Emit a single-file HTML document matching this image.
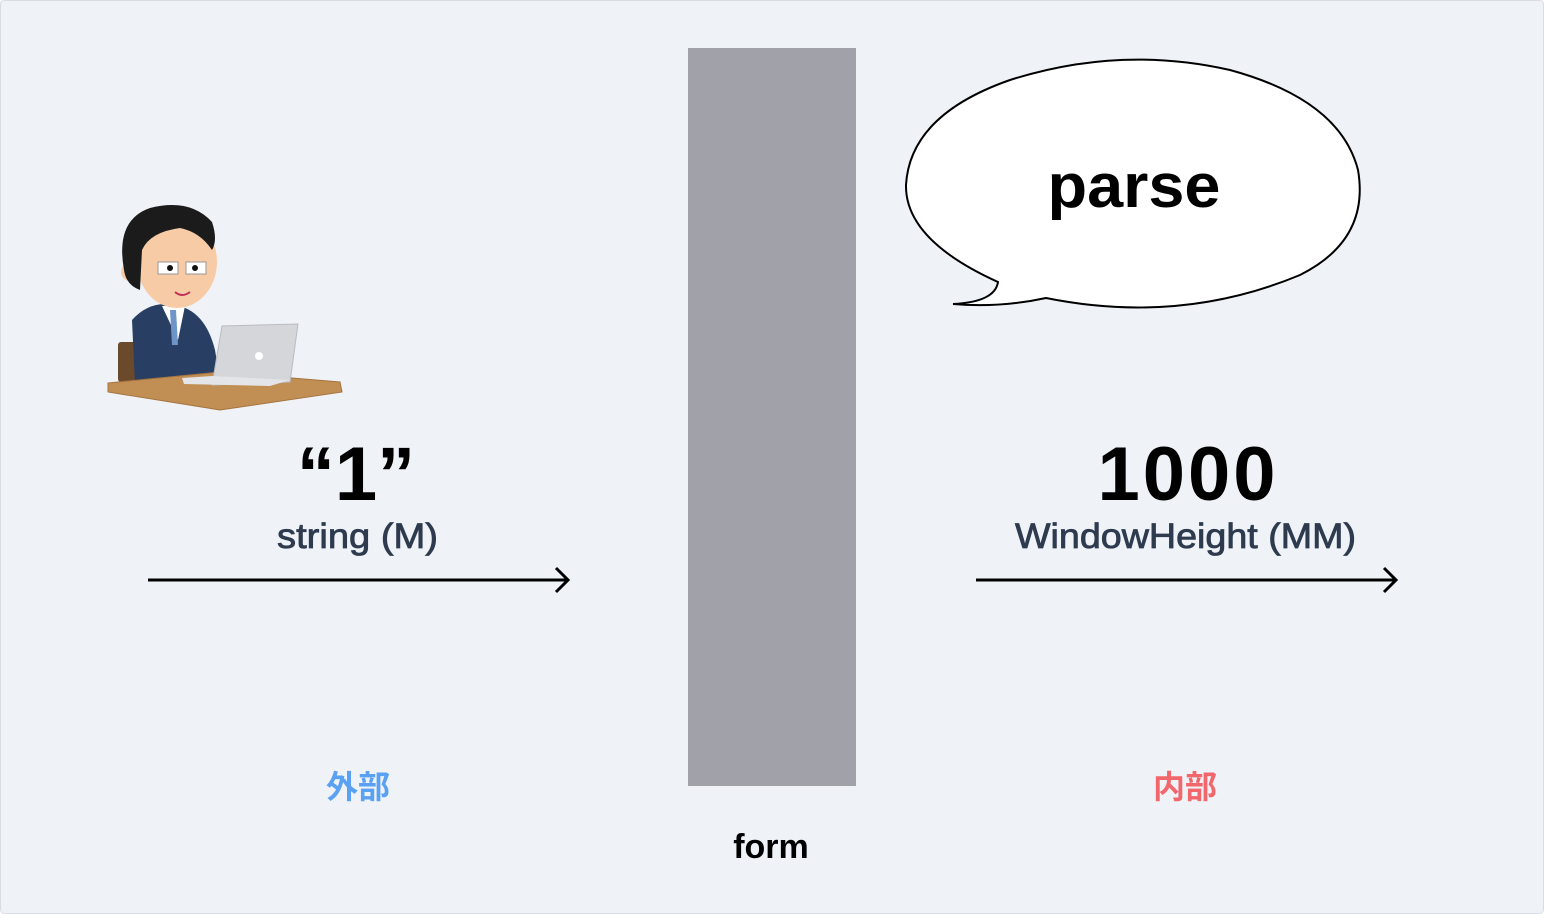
<!DOCTYPE html>
<html><head><meta charset="utf-8"><style>
html,body{margin:0;padding:0;background:#fff;}
svg{display:block;}
text{font-family:"Liberation Sans","Noto Sans CJK JP",sans-serif;}
</style></head><body>
<svg width="1544" height="914" viewBox="0 0 1544 914" xmlns="http://www.w3.org/2000/svg">
<rect x="0.5" y="0.5" width="1543" height="913" rx="4" fill="#eff3f8" stroke="#d8dce2"/>
<rect x="688" y="48" width="168" height="738" fill="#a1a1a9"/>
<g>
<rect x="118" y="342" width="20" height="40" rx="3" fill="#6b4a2b"/>
<path d="M132 320 Q150 300 175 305 Q205 310 215 350 L220 380 L135 385 Z" fill="#283f63"/>
<path d="M162 306 L185 306 L178 340 Z" fill="#fff"/>
<path d="M170 310 L176 310 L178 345 L172 345 Z" fill="#6f95c8"/>
<circle cx="130" cy="272" r="9" fill="#f7cba5"/>
<ellipse cx="177" cy="262" rx="40" ry="46" fill="#f7cba5"/>
<path d="M124 270 Q115 220 150 208 Q190 198 212 222 Q218 240 212 250 Q200 232 180 228 Q150 232 142 250 L140 290 Q126 285 124 270 Z" fill="#1b1b1b"/>
<rect x="158" y="262" width="20" height="12" fill="#fff" stroke="#999"/>
<rect x="186" y="262" width="20" height="12" fill="#fff" stroke="#999"/>
<circle cx="170" cy="268" r="3" fill="#111"/><circle cx="195" cy="268" r="3" fill="#111"/>
<path d="M175 292 Q182 298 190 292" stroke="#c0305a" stroke-width="2" fill="none"/>
<path d="M108 383 L220 372 L340 382 L342 392 L220 410 L108 392 Z" fill="#c18e54" stroke="#a5743f"/>
<path d="M222 326 L298 324 L290 382 L212 385 Z" fill="#d4d6da" stroke="#b8bbc0"/>
<path d="M182 378 L212 376 L290 380 L270 386 L184 384 Z" fill="#e3e5e8"/>
<circle cx="259" cy="356" r="4" fill="#fff"/>
</g>
<text x="356" y="500" font-size="76" font-weight="bold" text-anchor="middle" fill="#000">“1”</text>
<text x="277" y="548" font-size="35" fill="#2e3a4e" stroke="#2e3a4e" stroke-width="0.8" textLength="161" lengthAdjust="spacingAndGlyphs">string (M)</text>
<line x1="148" y1="580" x2="568" y2="580" stroke="#000" stroke-width="3"/>
<path d="M556 568 L568 580 L556 592" stroke="#000" stroke-width="3" fill="none"/>
<text x="1188" y="500" font-size="76" font-weight="bold" text-anchor="middle" fill="#000" letter-spacing="3">1000</text>
<text x="1015" y="548" font-size="35" fill="#2e3a4e" stroke="#2e3a4e" stroke-width="0.8" textLength="341" lengthAdjust="spacingAndGlyphs">WindowHeight (MM)</text>
<line x1="976" y1="580" x2="1396" y2="580" stroke="#000" stroke-width="3"/>
<path d="M1384 568 L1396 580 L1384 592" stroke="#000" stroke-width="3" fill="none"/>
<path d="M1046 298 Q1180 325 1300 275 Q1370 240 1358 170 Q1340 100 1230 70 Q1120 45 1010 80 Q910 115 906 185 Q905 240 998 282 Q995 302 953 304 Q1000 308 1046 298 Z" fill="#fff" stroke="#000" stroke-width="2"/>
<text x="1134" y="207" font-size="62" font-weight="bold" text-anchor="middle" fill="#000" textLength="173" lengthAdjust="spacingAndGlyphs">parse</text>
<text x="358" y="798" font-size="32" font-weight="bold" text-anchor="middle" fill="#5aa1f4">外部</text>
<text x="1185" y="798" font-size="32" font-weight="bold" text-anchor="middle" fill="#f2676b">内部</text>
<text x="771" y="858" font-size="34" font-weight="bold" text-anchor="middle" fill="#000">form</text>
</svg>
</body></html>
